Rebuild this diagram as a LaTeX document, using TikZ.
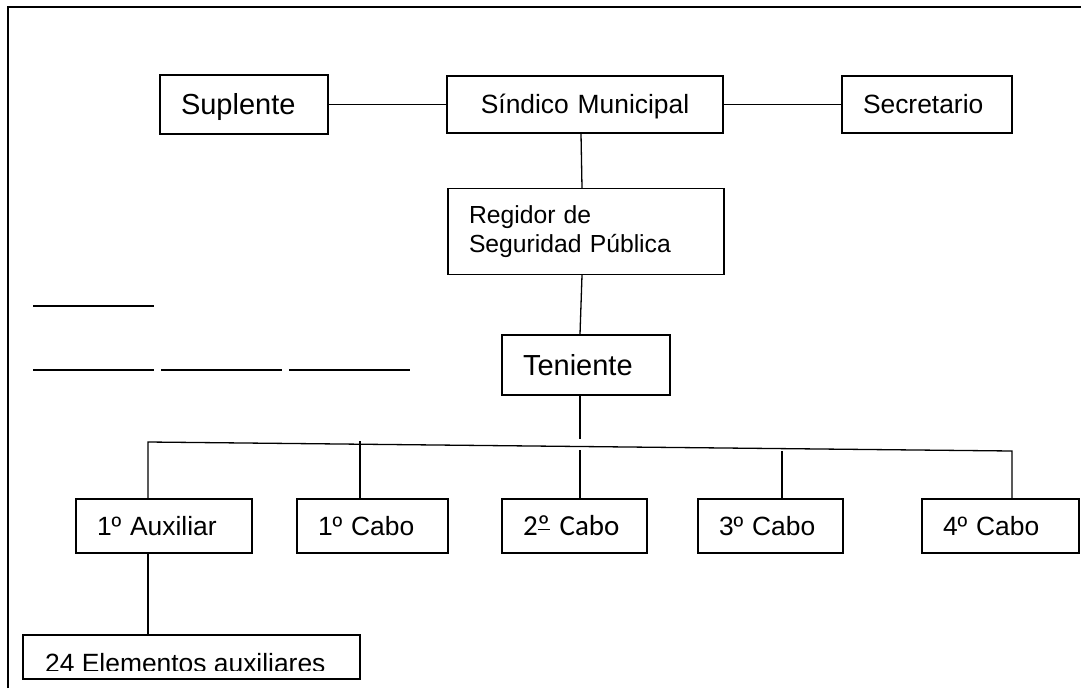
\documentclass[tikz,border=0pt]{standalone}
\usepackage{fontspec}
\setmainfont{Liberation Sans}
\newfontfamily\calibri{Carlito}
\newcommand{\ordcal}{\setbox0\hbox{º}\rlap{\rule[5.5pt]{\wd0}{1.2pt}}\box0}
\tikzset{
  caja/.style={draw, line width=1.3pt, inner xsep=21pt, inner ysep=2pt, align=left},
  linea/.style={line width=1.3pt},
  textogrande/.style={font=\fontsize{29}{33}\selectfont, text height=20.8pt, text depth=0pt},
  textonormal/.style={font=\fontsize{26.4}{30}\selectfont, text height=18.9pt, text depth=0pt},
}
\begin{document}
\begin{tikzpicture}[x=1pt,y=-1pt]
        \useasboundingbox (0,0) rectangle (1081,688);
        \draw[linea] (8,688) |- (1081,7);
        % primera fila
        \node[caja, textogrande, text width=126pt, minimum height=59pt] (suplente) at (244,104.5) {Suplente};
        \node[caja, textonormal, text width=234pt, minimum height=57pt, align=center] (sindico) at (585,104.5) {Síndico Municipal};
        \node[caja, textonormal, text width=128pt, minimum height=57pt] (secretario) at (927,104.5) {Secretario};
        \node[caja, font=\fontsize{24.7}{28.4}\selectfont, text width=234pt, minimum height=86pt] (regidor) at (586,231.5) {Regidor de\\Seguridad Pública};
        \node[caja, textogrande, text width=126pt, minimum height=60pt] (teniente) at (586,365) {Teniente};
        % cabos
        \node[caja, textonormal, text width=134pt, minimum height=54pt] (aux) at (164,526) {1º Auxiliar};
        \node[caja, textonormal, text width=109pt, minimum height=54pt] (cabo1) at (372.5,526) {1º Cabo};
        \node[caja, font=\calibri\fontsize{29}{33}\selectfont, text height=18.7pt, text depth=0pt, text width=103pt, minimum height=54pt] (cabo2) at (574.5,526) {2\ordcal\ Cabo};
        \node[caja, textonormal, text width=103pt, minimum height=54pt] (cabo3) at (770.5,526) {3º Cabo};
        \node[caja, textonormal, text width=115pt, minimum height=54pt] (cabo4) at (1000.5,526) {4º Cabo};
        \node[draw, line width=1.3pt, inner sep=0pt, minimum width=337pt, minimum height=44pt] (elementos) at (191.5,657) {};
        \begin{scope}
          \clip (23,635) rectangle (360,670);
          \node[font=\fontsize{26.4}{30}\selectfont, anchor=base west, inner sep=0pt] (elementostxt) at (45,672) {24 Elementos auxiliares};
        \end{scope}
        % lineas en blanco
        \draw[line width=1.6pt] (33,306) -- (154,306);
        \draw[line width=1.6pt] (33,370) -- (154,370);
        \draw[line width=1.6pt] (161,370) -- (282,370);
        \draw[line width=1.6pt] (289,370) -- (410,370);
        % conexiones
        \coordinate (busL) at (148,442);
        \coordinate (busR) at (1012,451);
        \coordinate (tenfin) at (580,439);
        \coordinate (c1) at (360,441);
        \coordinate (c2) at (580,450);
        \coordinate (c3) at (782,451);
        \draw[linea] (suplente) -- (sindico);
        \draw[linea] (sindico) -- (secretario);
        \draw[linea] ([xshift=-4pt]sindico.south) -- ([xshift=-4pt]regidor.north);
        \draw[linea] ([xshift=-4pt]regidor.south) -- ([xshift=-6pt]teniente.north);
        \draw[linea] ([xshift=-6pt]teniente.south) -- (tenfin);
        \draw[linea] (aux.north -| busL) -- (busL) -- (busR) -- (cabo4.north -| busR);
        \draw[linea] (c1) -- (cabo1.north -| c1);
        \draw[linea] (c2) -- (cabo2.north -| c2);
        \draw[linea] (c3) -- (cabo3.north -| c3);
        \draw[linea] (aux.south -| busL) -- (elementos.north -| busL);
      \end{tikzpicture}
\end{document}
